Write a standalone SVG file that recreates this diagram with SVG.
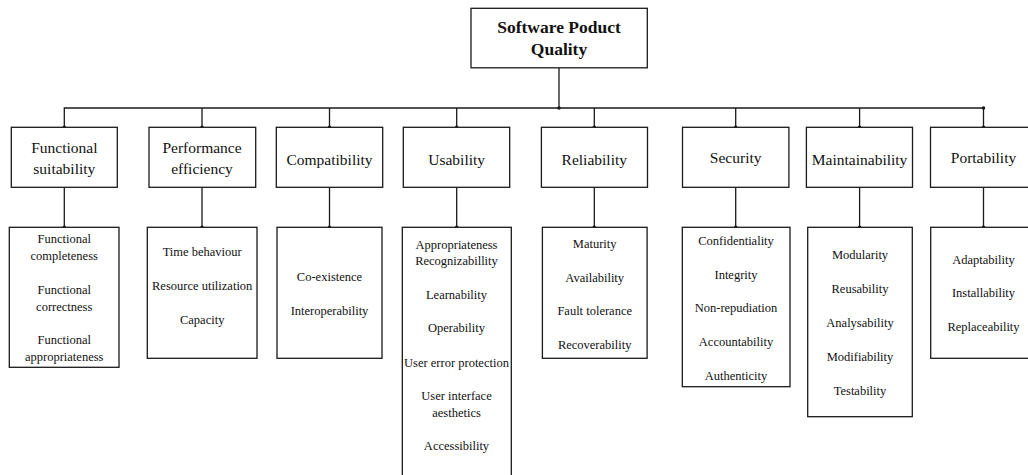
<svg xmlns="http://www.w3.org/2000/svg" width="1028" height="475" viewBox="0 0 1028 475">
<style>
.box{fill:#fff;stroke:#1a1a1a;stroke-width:1.3}
.ln{fill:none;stroke:#1a1a1a;stroke-width:1.3}
.dot{fill:#1a1a1a}
text{font-family:"Liberation Serif","Times New Roman",serif;fill:#111;text-anchor:middle}
.t0{font-size:17.5px;font-weight:bold}
.t1{font-size:15.5px}
.t2{font-size:12.5px}
</style>
<rect width="1028" height="475" fill="#fff"/>
<g id="connectors">
<path class="ln" d="M559,68 V108 M64.3,127 V108 H983.5 V127 M202,108 V127 M329.5,108 V127 M456.7,108 V127 M594.3,108 V127 M735.7,108 V127 M859.6,108 V127"/>
<path class="ln" d="M64.3,187.5 V227.5 M202,187.5 V227.5 M329.5,187.5 V227.5 M456.7,187.5 V227.5 M594.3,187.5 V227.5 M735.7,187.5 V227.5 M859.6,187.5 V227.5 M983.5,187.5 V227.5"/>
<g class="dot">
<circle cx="559" cy="108" r="1.8"/><circle cx="983.5" cy="108" r="1.8"/>
<circle cx="64.3" cy="127.3" r="1.8"/><circle cx="202" cy="127.3" r="1.8"/><circle cx="329.5" cy="127.3" r="1.8"/><circle cx="456.7" cy="127.3" r="1.8"/><circle cx="594.3" cy="127.3" r="1.8"/><circle cx="735.7" cy="127.3" r="1.8"/><circle cx="859.6" cy="127.3" r="1.8"/><circle cx="983.5" cy="127.3" r="1.8"/>
<circle cx="64.3" cy="227.3" r="1.8"/><circle cx="202" cy="227.3" r="1.8"/><circle cx="329.5" cy="227.3" r="1.8"/><circle cx="456.7" cy="227.3" r="1.8"/><circle cx="594.3" cy="227.3" r="1.8"/><circle cx="735.7" cy="227.3" r="1.8"/><circle cx="859.6" cy="227.3" r="1.8"/><circle cx="983.5" cy="227.3" r="1.8"/>
</g>
</g>
<g id="root">
<rect class="box" x="471" y="8.3" width="176.3" height="59.5"/>
<text class="t0" x="559" y="32.5">Software Poduct</text>
<text class="t0" x="559" y="54.5">Quality</text>
</g>
<g id="functional-suitability">
<rect class="box" x="11.3" y="127.3" width="106" height="60"/>
<text class="t1" x="64.3" y="152.5">Functional</text>
<text class="t1" x="64.3" y="173.5">suitability</text>
</g>
<g id="performance-efficiency">
<rect class="box" x="149" y="127.3" width="106.7" height="60"/>
<text class="t1" x="202" y="152.5">Performance</text>
<text class="t1" x="202" y="173.5">efficiency</text>
</g>
<g id="compatibility">
<rect class="box" x="276.3" y="127.3" width="106.4" height="60"/>
<text class="t1" x="329.5" y="164.5">Compatibility</text>
</g>
<g id="usability">
<rect class="box" x="403.3" y="127.3" width="106.4" height="60"/>
<text class="t1" x="456.7" y="164.5">Usability</text>
</g>
<g id="reliability">
<rect class="box" x="541.4" y="127.3" width="106.1" height="60"/>
<text class="t1" x="594.3" y="164.5">Reliability</text>
</g>
<g id="security">
<rect class="box" x="682.5" y="127.3" width="106.4" height="60"/>
<text class="t1" x="735.7" y="163">Security</text>
</g>
<g id="maintainability">
<rect class="box" x="806.4" y="127.3" width="106.1" height="60"/>
<text class="t1" x="859.6" y="164.5">Maintainability</text>
</g>
<g id="portability">
<rect class="box" x="930.5" y="127.3" width="106" height="60"/>
<text class="t1" x="983.5" y="163">Portability</text>
</g>
<g id="functional-suitability-items">
<rect class="box" x="9.3" y="227.3" width="109.7" height="140"/>
<text class="t2" x="64.2" y="242.5">Functional</text>
<text class="t2" x="64.2" y="259.5">completeness</text>
<text class="t2" x="64.2" y="293.5">Functional</text>
<text class="t2" x="64.2" y="310.5">correctness</text>
<text class="t2" x="64.2" y="344">Functional</text>
<text class="t2" x="64.2" y="361">appropriateness</text>
</g>
<g id="performance-efficiency-items">
<rect class="box" x="147.3" y="227.3" width="109.7" height="131"/>
<text class="t2" x="202.2" y="255.5">Time behaviour</text>
<text class="t2" x="202.2" y="289.5">Resource utilization</text>
<text class="t2" x="202.2" y="323.5">Capacity</text>
</g>
<g id="compatibility-items">
<rect class="box" x="277" y="227.3" width="105" height="131"/>
<text class="t2" x="329.5" y="281">Co-existence</text>
<text class="t2" x="329.5" y="314.5">Interoperability</text>
</g>
<g id="usability-items">
<rect class="box" x="402.3" y="227.3" width="109" height="260"/>
<text class="t2" x="456.5" y="249">Appropriateness</text>
<text class="t2" x="456.5" y="265">Recognizabillity</text>
<text class="t2" x="456.5" y="298.5">Learnability</text>
<text class="t2" x="456.5" y="332">Operability</text>
<text class="t2" x="456.5" y="366.5">User error protection</text>
<text class="t2" x="456.5" y="399.5">User interface</text>
<text class="t2" x="456.5" y="417">aesthetics</text>
<text class="t2" x="456.5" y="450">Accessibility</text>
</g>
<g id="reliability-items">
<rect class="box" x="542.4" y="227.3" width="104.7" height="131"/>
<text class="t2" x="594.7" y="248">Maturity</text>
<text class="t2" x="594.7" y="281.5">Availability</text>
<text class="t2" x="594.7" y="315">Fault tolerance</text>
<text class="t2" x="594.7" y="349">Recoverability</text>
</g>
<g id="security-items">
<rect class="box" x="682.3" y="227.3" width="107.7" height="159.4"/>
<text class="t2" x="736" y="244.5">Confidentiality</text>
<text class="t2" x="736" y="278.5">Integrity</text>
<text class="t2" x="736" y="312">Non-repudiation</text>
<text class="t2" x="736" y="345.5">Accountability</text>
<text class="t2" x="736" y="379.5">Authenticity</text>
</g>
<g id="maintainability-items">
<rect class="box" x="807.7" y="227.3" width="104.6" height="189.4"/>
<text class="t2" x="860" y="259">Modularity</text>
<text class="t2" x="860" y="293">Reusability</text>
<text class="t2" x="860" y="327">Analysability</text>
<text class="t2" x="860" y="360.5">Modifiability</text>
<text class="t2" x="860" y="394.5">Testability</text>
</g>
<g id="portability-items">
<rect class="box" x="930.7" y="227.3" width="106" height="131"/>
<text class="t2" x="983.5" y="264">Adaptability</text>
<text class="t2" x="983.5" y="297">Installability</text>
<text class="t2" x="983.5" y="331">Replaceability</text>
</g>
</svg>
